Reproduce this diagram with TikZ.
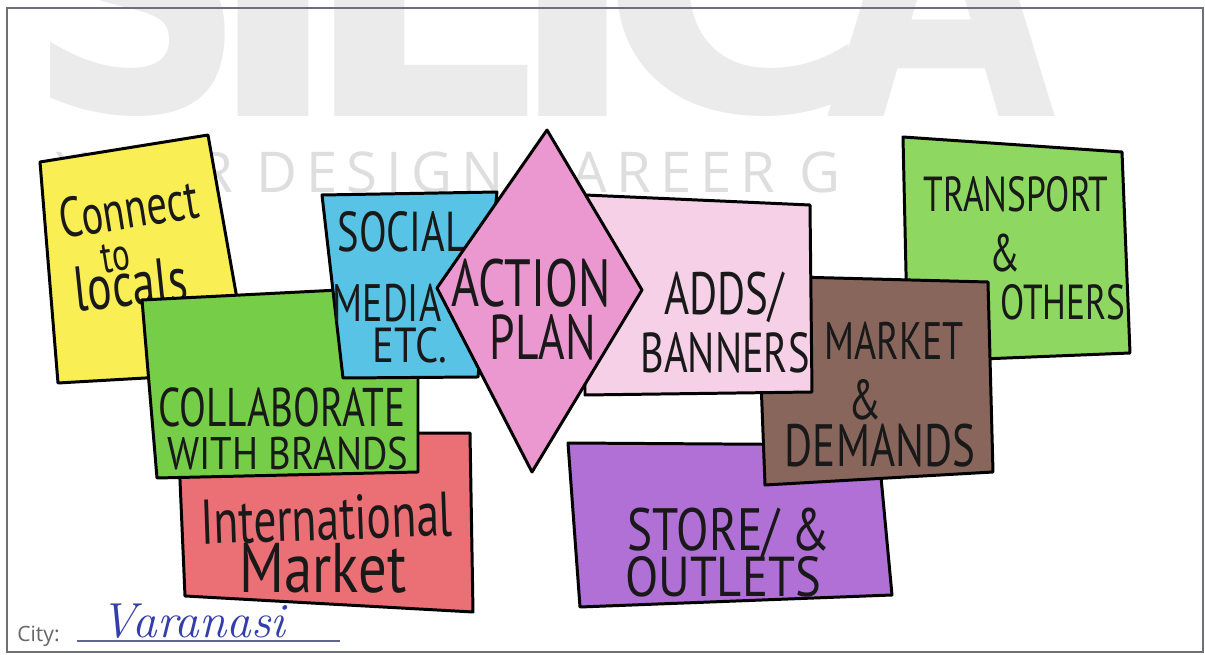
\documentclass[tikz,border=0pt]{standalone}
\usepackage{fontspec}
\usepackage{graphicx}
\usepackage{tikz}
\newfontfamily\handfont[FakeStretch=0.72]{PT Sans}
\newfontfamily\markfont{DejaVu Sans}
\newfontfamily\tagfont[LetterSpace=16]{Open Sans}
\newfontfamily\formfont{Open Sans}
\newlength\pxu
\setlength\pxu{0.02cm}
\definecolor{CrayonYellow}{RGB}{250,238,85}
\definecolor{CrayonGreen}{RGB}{118,205,72}
\definecolor{CrayonRed}{RGB}{234,112,118}
\definecolor{CrayonBlue}{RGB}{88,195,228}
\definecolor{CrayonPink}{RGB}{236,152,208}
\definecolor{CrayonRose}{RGB}{246,208,230}
\definecolor{CrayonLime}{RGB}{142,216,98}
\definecolor{CrayonBrown}{RGB}{136,102,92}
\definecolor{CrayonPurple}{RGB}{176,112,214}
\definecolor{MarkGray}{RGB}{235,235,235}
\definecolor{TagGray}{RGB}{222,222,222}
\definecolor{FrameGray}{RGB}{110,112,120}
\definecolor{InkBlue}{RGB}{52,62,170}
\tikzset{
  card/.style={draw=black,line width=1.7pt,line join=round},
  hand/.style={font=\handfont\fontsize{#1}{#1}\selectfont,inner sep=0pt,anchor=base,text=black!90},
  watermark/.style={anchor=south west,inner sep=0pt,text=MarkGray},
}
\begin{document}
\begin{tikzpicture}[x=0.02cm,y=-0.02cm]
  \useasboundingbox (0,0) rectangle (1205,655);
  \fill[white] (0,0) rectangle (1205,655);
  % watermark
  \begin{scope}
    \clip (0,0) rectangle (1205,655);
    \foreach \ltr/\lx/\lw [count=\i] in {S/26/221,I/203/140,L/300/237,I/505/135,C/598/274,A/826/230}
      \node[watermark] (wm\i) at (\lx,117) {\resizebox{\lw\pxu}{262\pxu}{\markfont\bfseries\ltr}};
  \end{scope}
  \node[anchor=base west,inner sep=0pt,text=TagGray,font=\tagfont\fontsize{32}{32}\selectfont] (tag) at (56,193) {YOUR DESIGN CAREER G};
  \draw[FrameGray,line width=0.8pt] (7,8) rectangle (1203,652);

  % connect to locals
  \filldraw[card,fill=CrayonYellow] (40,162) -- (208,135) -- (250,372) -- (58,383) -- cycle;
  \node[hand=32,rotate=9] (con1) at (132,228) {Connect};
  \node[hand=26,rotate=9] (con2) at (118,271) {to};
  \node[hand=36,rotate=6] (con3) at (133,306) {locals};

  % international market
  \filldraw[card,fill=CrayonRed] (178,434) -- (470,433) -- (473,612) -- (185,596) -- cycle;
  \node[hand=36,rotate=2] (intl1) at (327,540) {International};
  \node[hand=40,xscale=1.12] (intl2) at (323,593) {Market};

  % collaborate
  \filldraw[card,fill=CrayonGreen] (142,300) -- (418,286) -- (418,472) -- (157,478) -- cycle;
  \node[hand=31] (col1) at (282,427) {COLLABORATE};
  \node[hand=26,xscale=1.18] (col2) at (288,470) {WITH BRANDS};

  % social media
  \filldraw[card,fill=CrayonBlue] (322,195) -- (497,192) -- (478,377) -- (343,378) -- cycle;
  \node[hand=32] (soc1) at (402,252) {SOCIAL};
  \node[hand=30] (soc2) at (387,322) {MEDIA};
  \node[hand=28,xscale=1.15] (soc3) at (410,363) {ETC.};

  % transport
  \filldraw[card,fill=CrayonLime] (903,137) -- (1122,152) -- (1130,353) -- (908,362) -- cycle;
  \node[hand=28] (tra1) at (1016,212) {TRANSPORT};
  \node[hand=30] (tra2) at (1005,272) {\&};
  \node[hand=28] (tra3) at (1063,320) {OTHERS};

  % stores
  \filldraw[card,fill=CrayonPurple] (568,443) -- (878,445) -- (892,595) -- (580,607) -- cycle;
  \node[hand=34,xscale=1.1] (sto1) at (729,551) {STORE/\ \&};
  \node[hand=32,xscale=1.2] (sto2) at (723,597) {OUTLETS};

  % market
  \filldraw[card,fill=CrayonBrown] (757,276) -- (988,282) -- (993,472) -- (765,485) -- cycle;
  \node[hand=30] (mkt1) at (894,360) {MARKET};
  \node[hand=32] (mkt2) at (865,420) {\&};
  \node[hand=34] (mkt3) at (880,467) {DEMANDS};

  % adds
  \filldraw[card,fill=CrayonRose] (585,195) -- (810,205) -- (812,392) -- (585,395) -- cycle;
  \node[hand=34] (add1) at (724,315) {ADDS/};
  \node[hand=32] (add2) at (725,373) {BANNERS};

  % action plan
  \filldraw[card,fill=CrayonPink] (547,130) -- (642,290) -- (532,472) -- (437,288) -- cycle;
  \node[hand=38] (act1) at (531,307) {ACTION};
  \node[hand=36] (act2) at (543,360) {PLAN};

  % city
  \node[anchor=base west,inner sep=0pt,font=\formfont\fontsize{12}{12}\selectfont,text=black!60] (city) at (17,642) {City:};
  \coordinate (lineA) at (77,641);
  \coordinate (lineB) at (340,641);
  \draw[InkBlue!40!gray,line width=0.6pt] (lineA) -- (lineB);
  \node[anchor=base west,inner sep=0pt,font=\itshape\fontsize{28}{28}\selectfont,text=InkBlue] (town) at (100,638) {Varanasi};
\end{tikzpicture}
\end{document}
